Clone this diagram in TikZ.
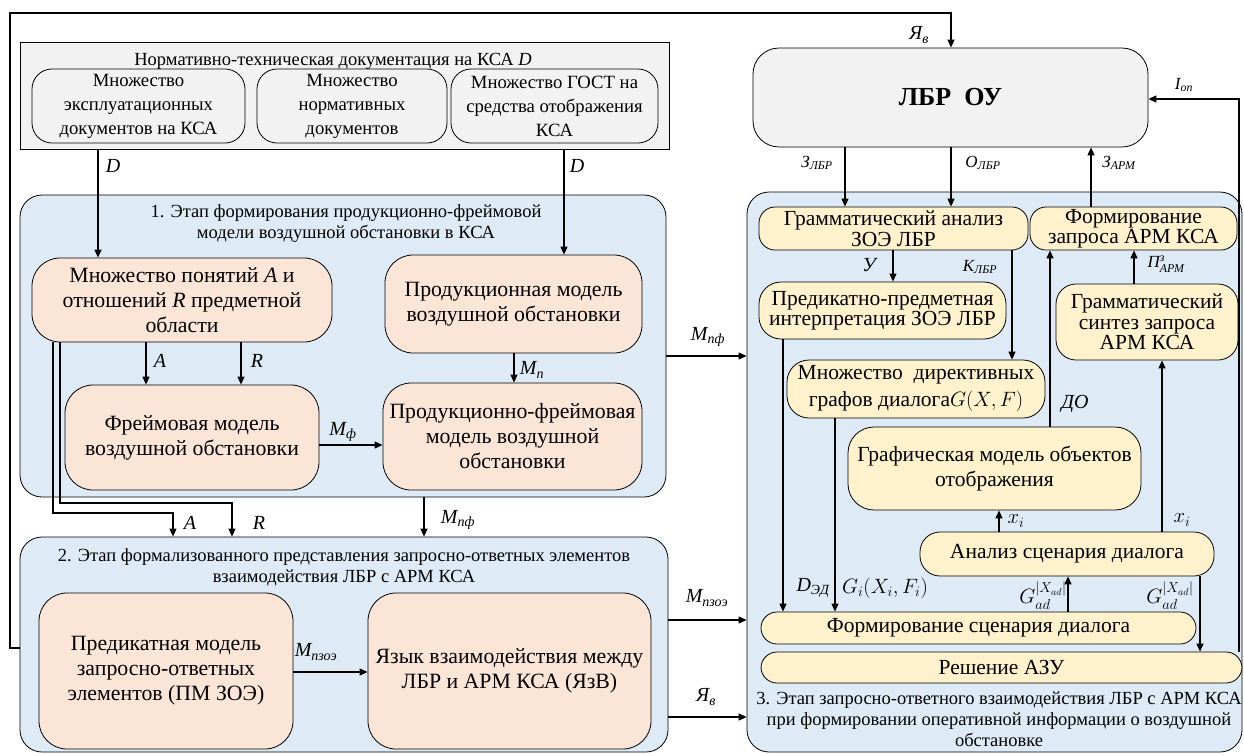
\documentclass[tikz,border=0pt]{standalone}
\usepackage{amsmath}
\usepackage{fontspec}
\setmainfont{Liberation Serif}
\usetikzlibrary{arrows.meta}
\definecolor{grayf}{HTML}{F2F2F2}
\definecolor{bluef}{HTML}{DEEBF7}
\definecolor{peachf}{HTML}{FBE5D6}
\definecolor{yellowf}{HTML}{FFF2CC}
\newcommand\fs[2]{\fontsize{#1}{#2}\selectfont}
\newcommand\sbs[2]{#1\textsubscript{#2}}
\tikzset{
  boxbase/.style={draw, line width=0.8pt, align=center, inner sep=0pt},
  grayregion/.style={boxbase, fill=grayf},
  docbox/.style={boxbase, fill=grayf, rounded corners=20pt, font=\rmfamily\fs{18.7}{24}},
  stagebox/.style={boxbase, fill=bluef, rounded corners=22pt},
  peachbox/.style={boxbase, fill=peachf, rounded corners=28pt, font=\rmfamily\fs{21.8}{25}},
  yelbox/.style={boxbase, fill=yellowf, rounded corners=16pt, font=\rmfamily\fs{21.5}{20.5}},
  lbrbox/.style={boxbase, fill=grayf, rounded corners=26pt, font=\rmfamily\fs{26}{30}\bfseries},
  title/.style={align=center, inner sep=0pt, font=\rmfamily\fs{18.5}{21}},
  arr/.style={line width=1.1pt, -{Triangle[length=8pt,width=7pt]}},
  lab/.style={inner sep=0pt, font=\rmfamily\fs{20}{22}\itshape},
  slab/.style={inner sep=0pt, font=\rmfamily\fs{17}{20}\itshape},
  mlab/.style={inner sep=0pt, font=\rmfamily\fs{20}{22}},
}
\begin{document}
\begin{tikzpicture}[x=1pt,y=-1pt]
\useasboundingbox (0,0) rectangle (1244,755);

% regions
\node[grayregion, minimum width=649pt, minimum height=107pt] (gray) at (344.5,95.5) {};
\node[title] (graytitle) at (333,61) {Нормативно-техническая документация на КСА \textit{D}};
\node[docbox, minimum width=213pt, minimum height=74pt] (doc1) at (138.5,106) {Множество\\эксплуатационных\\документов на КСА};
\node[docbox, minimum width=190pt, minimum height=74pt] (doc2) at (352,106) {Множество\\нормативных\\документов};
\node[docbox, minimum width=207pt, minimum height=74pt] (doc3) at (554.5,106) {Множество ГОСТ на\\средства отображения\\КСА};

\node[stagebox, minimum width=646pt, minimum height=302pt] (stage1) at (343,346) {};
\node[title] (t1) at (346,223.5) {1. Этап формирования продукционно-фреймовой\\модели воздушной обстановки в КСА};
\node[peachbox, minimum width=300pt, minimum height=84pt] (mnozh) at (182,300) {Множество понятий \textit{A} и\\отношений \textit{R} предметной\\области};
\node[peachbox, minimum width=257pt, minimum height=98pt] (prod) at (513.5,304) {Продукционная модель\\воздушной обстановки};
\node[peachbox, minimum width=254pt, minimum height=105pt] (frame) at (192,437.5) {Фреймовая модель\\воздушной обстановки};
\node[peachbox, minimum width=259pt, minimum height=107pt] (pf) at (512.5,436.5) {Продукционно-фреймовая\\модель воздушной\\обстановки};

\node[stagebox, minimum width=648pt, minimum height=215pt] (stage2) at (344,644.5) {};
\node[title] (t2) at (344,567.5) {2. Этап формализованного представления запросно-ответных элементов\\взаимодействия ЛБР с АРМ КСА};
\node[peachbox, minimum width=254pt, minimum height=156pt] (pm) at (166,671) {Предикатная модель\\запросно-ответных\\элементов (ПМ ЗОЭ)};
\node[peachbox, minimum width=283pt, minimum height=156pt] (yaz) at (509.5,671) {Язык взаимодействия между\\ЛБР и АРМ КСА (ЯзВ)};

\node[lbrbox, minimum width=395pt, minimum height=99pt] (lbr) at (950.5,97.5) {ЛБР\ \ ОУ};

\node[stagebox, minimum width=495pt, minimum height=560pt] (stage3) at (994.5,472) {};
\node[yelbox, minimum width=269pt, minimum height=43pt] (ga) at (893.5,228.5) {Грамматический анализ\\ЗОЭ ЛБР};
\node[yelbox, minimum width=207pt, minimum height=43pt] (fz) at (1133.5,228.5) {Формирование\\запроса АРМ КСА};
\node[yelbox, minimum width=247pt, minimum height=57pt, rounded corners=22pt] (ppi) at (882.5,310.5) {Предикатно-предметная\\интерпретация ЗОЭ ЛБР};
\node[yelbox, minimum width=182pt, minimum height=76pt, rounded corners=20pt] (gs) at (1147,322) {Грамматический\\синтез запроса\\АРМ КСА};
\node[yelbox, minimum width=258pt, minimum height=58pt, rounded corners=22pt, font=\rmfamily\fs{21.5}{27}] (md) at (916,389) {Множество\ \ директивных\\графов диалога$G(X,F)$};
\node[yelbox, minimum width=293pt, minimum height=83pt, rounded corners=26pt, font=\rmfamily\fs{21.5}{25}] (gm) at (994.5,468.5) {Графическая модель объектов\\отображения};
\node[yelbox, minimum width=294pt, minimum height=44pt, rounded corners=20pt] (as) at (1067,554) {Анализ сценария диалога};
\node[yelbox, minimum width=435pt, minimum height=32pt] (fs) at (978.5,628) {Формирование сценария диалога};
\node[yelbox, minimum width=481pt, minimum height=31pt] (rz) at (1001.5,667.5) {Решение АЗУ};
\node[title] (t3) at (999,719.5) {3. Этап запросно-ответного взаимодействия ЛБР с АРМ КСА\\при формировании оперативной информации о воздушной\\обстановке};

% connectors
\draw[arr] (98,0 |- gray.south) -- (98,0 |- mnozh.north);
\draw[arr] (564,0 |- gray.south) -- (564,0 |- prod.north);
\draw[arr] (146,0 |- mnozh.south) -- (146,0 |- frame.north);
\draw[arr] (241,0 |- mnozh.south) -- (241,0 |- frame.north);
\draw[arr] (514,0 |- prod.south) -- (514,0 |- pf.north);
\draw[arr] (frame.east |- 0,445) -- (pf.west |- 0,445);
\draw[arr] (53,0 |- mnozh.south) -- (53,513) -- (173,513) -- (173,0 |- stage2.north);
\draw[arr] (60,0 |- mnozh.south) -- (60,503) -- (232,503) -- (232,0 |- stage2.north);
\draw[arr] (424,0 |- stage1.south) -- (424,0 |- stage2.north);
\draw[arr] (pm.east |- 0,672) -- (yaz.west |- 0,672);
\draw[arr] (stage2.west |- 0,648) -- (10,648) -- (10,13) -- (951,13) -- (951,0 |- lbr.north);
\draw[arr] (stage1.east |- 0,356) -- (stage3.west |- 0,356);
\draw[arr] (stage2.east |- 0,620) -- (stage3.west |- 0,620);
\draw[arr] (stage2.east |- 0,717) -- (stage3.west |- 0,717);
\draw[arr] (845,0 |- lbr.south) -- (845,0 |- ga.north);
\draw[arr] (951,0 |- lbr.south) -- (951,0 |- ga.north);
\draw[arr] (1091,0 |- fz.north) -- (1091,0 |- lbr.south);
\draw[arr] (1239,0 |- rz.north) -- (1239,99) -- (lbr.east |- 0,99);
\draw[arr] (893,0 |- ga.south) -- (893,0 |- ppi.north);
\draw[arr] (1012,0 |- ga.south) -- (1012,0 |- md.north);
\draw[arr] (1134,0 |- gs.north) -- (1134,0 |- fz.south);
\draw[arr] (1050,0 |- gm.north) -- (1050,0 |- fz.south);
\draw[arr] (783,0 |- ppi.south) -- (783,0 |- fs.north);
\draw[arr] (835,0 |- md.south) -- (835,0 |- fs.north);
\draw[arr] (999,0 |- as.north) -- (999,0 |- gm.south);
\draw[arr] (1162,0 |- as.north) -- (1162,0 |- gs.south);
\draw[arr] (1068,0 |- fs.north) -- (1068,0 |- as.south);
\draw[arr] (1200,0 |- as.south) -- (1200,0 |- rz.north);

% labels
\node[lab] (lD1) at (113,166) {D};
\node[lab] (lD2) at (577,166) {D};
\node[lab] (lA1) at (160,361) {A};
\node[lab] (lR1) at (257,361) {R};
\node[lab] (lMp) at (532,370) {\sbs{M}{п}};
\node[lab] (lMf) at (343,432) {\sbs{M}{ф}};
\node[lab] (lA2) at (190,523) {A};
\node[lab] (lR2) at (259,523) {R};
\node[lab] (lMpf1) at (458,520) {\sbs{M}{пф}};
\node[lab] (lMpzoe1) at (316,652) {\sbs{M}{пзоэ}};
\node[lab] (lYa1) at (919,35) {\sbs{Я}{в}};
\node[lab] (lMpf2) at (708,337) {\sbs{M}{пф}};
\node[lab] (lMpzoe2) at (707,598) {\sbs{M}{пзоэ}};
\node[lab] (lYa2) at (706,697) {\sbs{Я}{в}};
\node[slab] (lZl) at (817,163) {\sbs{З}{ЛБР}};
\node[slab] (lOl) at (983,163) {\sbs{О}{ЛБР}};
\node[slab] (lZa) at (1119,163) {\sbs{З}{АРМ}};
\node[slab] (lIon) at (1184,85) {\sbs{I}{on}};
\node[lab] (lU) at (869,265) {У};
\node[slab] (lKl) at (980,267) {\sbs{К}{ЛБР}};
\node[slab] (lPa) at (1166,264) {$\textit{П}^{\textit{з}}_{\textit{АРМ}}$};
\node[lab] (lDO) at (1075,404) {ДО};
\node[lab] (lDed) at (813,588) {\sbs{D}{ЭД}};
\node[mlab] (lGi) at (885,588) {$G_i(X_i,F_i)$};
\node[mlab] (lx1) at (1016,521) {$x_i$};
\node[mlab] (lx2) at (1182,520) {$x_i$};
\node[mlab] (lG1) at (1043,596) {$G_{ad}^{|X_{ad}|}$};
\node[mlab] (lG2) at (1170,596) {$G_{ad}^{|X_{ad}|}$};
\end{tikzpicture}
\end{document}
